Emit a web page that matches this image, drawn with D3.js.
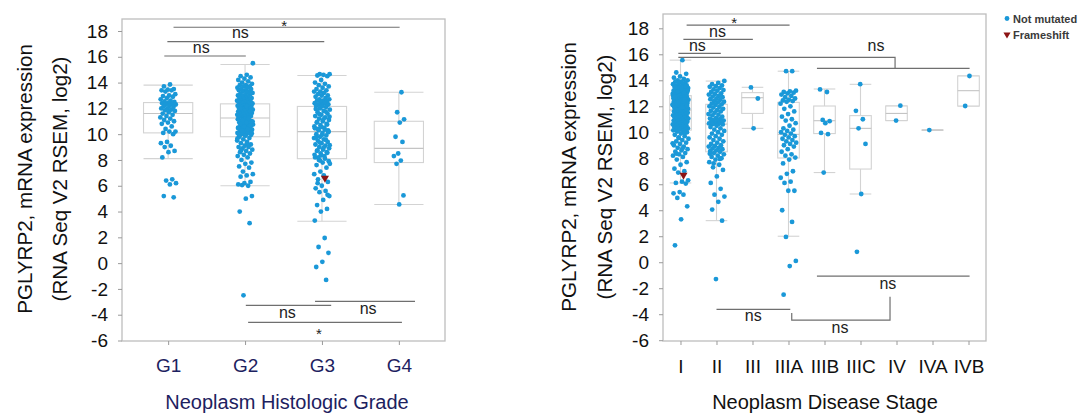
<!DOCTYPE html>
<html>
<head>
<meta charset="utf-8">
<script src="https://cdn.jsdelivr.net/npm/d3@7/dist/d3.min.js"></script>
<style>
  body { margin: 0; background: #fff; }
  svg { display: block; }
  text { font-family: "Liberation Sans", Arial, sans-serif; }
</style>
</head>
<body>
<svg id="chart" width="1090" height="416"></svg>
<script>
// ---------- Data: PGLYRP2 expression by histologic grade ----------
const gradeCats = ["G1", "G2", "G3", "G4"];
const gradeG1 = [13.85,13.7,13.5,13.45,13.4,13.4,13.3,13.1,13.0,12.95,12.9,12.8,12.7,12.6,12.55,12.5,12.45,12.4,12.35,12.3,12.3,12.2,12.15,12.1,12.0,12.0,11.9,11.85,11.8,11.7,11.6,11.5,11.4,11.3,11.2,11.1,11.0,10.9,10.8,10.6,10.4,10.2,10.2,10.1,10.0,9.4,9.3,9.1,9.0,8.7,8.6,8.2,6.5,6.4,6.2,6.1,5.2,5.1];
const gradeG2 = [15.5,14.6,14.5,14.4,14.3,14.2,14.1,14.0,13.9,13.8,13.8,13.7,13.7,13.6,13.6,13.5,13.5,13.4,13.4,13.3,13.3,13.2,13.2,13.1,13.1,13.0,13.0,12.9,12.9,12.8,12.8,12.8,12.7,12.7,12.6,12.6,12.6,12.5,12.5,12.5,
  12.4,12.4,12.35,12.3,12.3,12.25,12.2,12.2,12.15,12.1,12.1,12.05,12.0,12.0,11.95,11.9,11.9,11.85,11.8,11.8,11.75,11.7,11.7,11.65,11.6,11.6,11.55,11.5,11.5,11.45,11.4,11.4,11.35,11.3,11.3,11.25,12.38,12.18,11.98,11.78,
  11.2,11.15,11.1,11.05,11.0,10.95,10.9,10.85,10.8,10.75,10.7,10.65,10.6,10.55,10.5,10.45,10.4,10.35,10.3,10.25,10.2,10.15,10.1,10.05,10.0,9.95,9.9,9.85,11.18,11.08,10.98,10.88,10.78,10.68,10.58,10.48,10.38,10.28,10.08,9.88,
  9.8,9.7,9.6,9.5,9.4,9.3,9.2,9.1,9.0,9.0,8.9,8.8,8.7,8.6,8.5,8.4,8.3,8.2,8.0,7.8,7.7,7.5,7.4,7.1,6.9,6.8,6.7,6.3,6.2,6.1,6.0,6.05,5.2,5.0,4.0,3.1,-2.5,9.65,9.25,8.75];
const gradeG3 = [14.65,14.65,14.6,14.55,14.5,14.2,14.0,13.9,13.8,13.7,13.6,13.5,13.4,13.3,13.3,13.2,13.1,13.0,13.0,12.9,12.8,12.7,12.7,12.6,12.6,12.5,12.5,12.4,12.4,12.3,12.3,12.25,
  12.2,12.1,12.0,11.9,11.8,11.7,11.6,11.5,11.4,11.3,11.2,11.1,11.0,10.9,10.8,10.7,10.6,10.5,10.4,10.3,12.15,11.95,11.75,11.55,11.35,11.15,10.95,10.75,10.55,10.45,10.35,10.3,
  10.2,10.1,10.0,9.9,9.8,9.7,9.6,9.5,9.4,9.3,9.2,9.1,9.0,8.9,8.8,8.7,8.6,8.5,8.4,8.3,8.2,10.15,9.95,9.75,9.55,9.35,9.15,8.95,8.75,8.55,8.35,8.2,
  8.1,8.0,7.9,7.8,7.6,7.4,7.1,6.9,6.7,6.5,6.3,6.0,5.8,5.6,5.5,5.2,4.9,4.5,4.2,4.0,3.3,1.95,1.25,0.8,0.1,-0.3,-1.3,7.95,7.7,6.8,6.2,5.3];
const gradeG4 = [13.25,11.7,11.15,10.9,9.8,9.4,8.5,8.3,7.95,7.7,5.25,4.55];
const gradeValues = [gradeG1, gradeG2, gradeG3, gradeG4];
// box statistics: lower whisker, Q1, median, Q3, upper whisker
const gradeLow    = [8.1, 6.0, 3.25, 4.55];
const gradeQ1     = [10.1, 9.8, 8.1, 7.8];
const gradeMedian = [11.6, 11.25, 10.2, 8.9];
const gradeQ3     = [12.45, 12.35, 12.15, 11.0];
const gradeHigh   = [13.8, 15.4, 14.55, 13.25];
const gradeFrameshiftCat = ["G3"];
const gradeFrameshiftValue = [6.6];
const gradeTestLabels = ["*", "ns", "ns", "ns", "ns", "*"];

// ---------- Data: PGLYRP2 expression by disease stage ----------
const stageCats = ["I", "II", "III", "IIIA", "IIIB", "IIIC", "IV", "IVA", "IVB"];
const stageI = [15.55,14.6,14.5,14.3,14.2,14.1,14.0,14.0,13.9,13.9,13.8,13.8,13.7,13.7,13.6,13.6,13.5,13.5,13.4,13.4,13.4,13.3,13.3,13.3,13.2,13.2,13.2,13.1,13.1,13.1,13.0,13.0,13.0,12.95,12.9,12.9,12.9,12.85,12.85,13.05,13.15,13.25,13.35,13.45,13.55,
  12.8,12.8,12.75,12.7,12.7,12.65,12.6,12.6,12.55,12.5,12.5,12.45,12.4,12.4,12.35,12.3,12.3,12.25,12.2,12.2,12.15,12.1,12.1,12.05,12.0,12.0,11.95,11.9,11.9,11.85,11.8,11.8,11.75,11.75,11.72,12.62,12.42,12.22,12.02,11.82,12.72,12.52,12.32,12.12,11.92,
  11.7,11.65,11.6,11.6,11.55,11.5,11.5,11.45,11.4,11.4,11.35,11.3,11.3,11.25,11.2,11.2,11.15,11.1,11.1,11.05,11.0,11.0,10.95,10.9,10.9,10.85,10.8,10.8,10.75,10.7,10.7,10.65,10.6,10.55,10.5,10.5,10.45,10.4,10.4,10.35,10.3,10.3,10.25,10.2,10.2,
  10.15,10.1,10.05,10.0,9.9,9.8,9.7,9.6,9.5,9.4,9.3,9.2,9.1,9.0,8.9,8.8,8.7,8.6,8.5,8.4,8.3,8.2,8.1,7.9,7.7,7.5,7.2,7.0,6.9,6.3,6.2,6.1,6.05,5.4,5.3,5.2,4.95,4.3,3.3,1.3,9.95,9.55,9.15,8.75,8.35];
const stageII = [13.95,13.8,13.7,13.6,13.55,13.5,13.4,13.3,13.25,13.2,13.1,13.0,12.95,12.9,12.8,12.75,12.7,12.6,12.55,12.5,12.4,12.35,12.3,12.2,12.15,
  12.1,12.0,11.95,11.9,11.8,11.7,11.65,11.6,11.5,11.4,11.35,11.3,11.2,11.1,11.05,11.0,10.95,10.9,10.85,10.8,10.75,10.7,10.68,10.65,10.62,
  10.6,10.5,10.4,10.3,10.2,10.1,10.0,9.9,9.8,9.7,9.6,9.5,9.4,9.3,9.2,9.1,9.0,8.95,8.9,8.8,8.75,8.7,8.6,8.55,8.5,
  8.4,8.3,8.2,8.1,8.0,7.9,7.7,7.5,7.3,7.1,6.6,6.1,5.65,5.2,5.05,4.65,4.05,3.2,-1.3,8.35,7.95,7.6];
const stageIII = [13.45, 12.6, 10.3];
const stageIIIA = [14.7,14.7,13.2,13.15,13.1,13.05,13.0,12.9,12.8,12.7,12.6,12.5,12.45,12.4,12.35,
  12.2,12.0,11.8,11.6,11.4,11.2,11.0,10.9,10.7,10.5,10.3,10.2,10.1,10.0,9.9,
  9.8,9.7,9.6,9.5,9.4,9.3,9.2,9.1,9.0,8.9,8.7,8.5,8.3,8.2,8.05,
  7.9,7.6,7.0,6.8,6.5,6.2,6.1,5.5,5.5,4.0,3.1,1.95,0.1,-0.3,-2.5];
const stageIIIB = [13.3, 13.1, 10.95, 10.85, 10.7, 9.95, 9.85, 6.9];
const stageIIIC = [13.7, 11.65, 11.0, 10.3, 9.1, 5.25, 0.8];
const stageIV = [12.05, 10.9];
const stageIVA = [10.17];
const stageIVB = [14.33, 12.02];
const stageValues = [stageI, stageII, stageIII, stageIIIA, stageIIIB, stageIIIC, stageIV, stageIVA, stageIVB];
const stageLow    = [6.1, 3.2, 10.3, 2.0, 6.9, 5.25, 10.9, 10.17, 12.02];
const stageQ1     = [10.17, 8.5, 11.45, 8.02, 9.9, 7.17, 10.9, 10.17, 12.02];
const stageMedian = [11.71, 10.63, 12.66, 9.84, 10.89, 10.3, 11.45, 10.17, 13.2];
const stageQ3     = [12.82, 12.15, 13.05, 12.3, 12.02, 11.28, 12.02, 10.17, 14.33];
const stageHigh   = [15.55, 13.94, 13.46, 14.7, 13.33, 13.69, 12.02, 10.17, 14.33];
const stageFrameshiftCat = ["I"];
const stageFrameshiftValue = [6.7];
const stageTestLabels = ["*", "ns", "ns", "ns", "ns", "ns", "ns"];

const legendLabels = ["Not mutated", "Frameshift"];
const yTicks = [-6, -4, -2, 0, 2, 4, 6, 8, 10, 12, 14, 16, 18];

// ---------- Styling ----------
const FONT = '"Liberation Sans", Arial, sans-serif';
const dotColor = "#1a98d8";
const frameshiftColor = "#8c1414";
const boxStroke = "#d3d3d3";
const sigStroke = "#6f6f6f";

const svg = d3.select("#chart");

// spreads points of a category sideways in a fixed, repeatable pattern
function spread(i, k, half) {
  const f = ((i + 1) * 0.6180339887 + k * 0.371) % 1;
  return (f - 0.5) * 2 * half;
}

function drawPanel(cfg) {
  const g = svg.append("g");
  const x = d3.scalePoint().domain(cfg.cats).range([cfg.left, cfg.right]).padding(cfg.pad);
  const y = d3.scaleLinear().domain([-6, 18]).range([cfg.y0, cfg.y18]);
  const step = x.step();
  const xi = i => x(cfg.cats[0]) + i * step;
  const bw = step * cfg.boxFrac;

  // plot frame
  g.append("rect")
    .attr("x", cfg.left).attr("y", cfg.top)
    .attr("width", cfg.right - cfg.left).attr("height", cfg.bottom - cfg.top)
    .attr("fill", "none").attr("stroke", "#bdbdbd").attr("stroke-width", 1.3);

  // y axis
  const ya = g.append("g")
    .attr("transform", `translate(${cfg.left},0)`)
    .call(d3.axisLeft(y).tickValues(yTicks).tickSize(4).tickPadding(10).tickFormat(d => String(d)));
  ya.attr("font-family", FONT);
  ya.select(".domain").remove();
  ya.selectAll(".tick line").attr("stroke", "#9a9a9a");
  ya.selectAll(".tick text").attr("font-size", 19).attr("fill", "#111");

  // x axis
  const xa = g.append("g")
    .attr("transform", `translate(0,${cfg.bottom})`)
    .call(d3.axisBottom(x).tickSize(4).tickPadding(cfg.xPad));
  xa.attr("font-family", FONT);
  xa.select(".domain").remove();
  xa.selectAll(".tick line").attr("stroke", "#9a9a9a");
  xa.selectAll(".tick text").attr("font-size", 19).attr("fill", cfg.labelColor);

  // axis titles
  g.append("text")
    .attr("x", cfg.titleX).attr("y", 409)
    .attr("text-anchor", "middle").attr("font-size", 20).attr("fill", cfg.labelColor)
    .text(cfg.xTitle);
  cfg.yTitle.forEach((t, k) => {
    g.append("text")
      .attr("transform", `translate(${cfg.yTitleX[k]},${cfg.yTitleY}) rotate(-90)`)
      .attr("text-anchor", "middle").attr("font-size", 20.6).attr("fill", "#111")
      .text(t);
  });

  // box plots
  const boxes = g.append("g").attr("stroke", boxStroke).attr("stroke-width", 1.1).attr("fill", "none");
  cfg.cats.forEach((c, i) => {
    const cx = x(c);
    boxes.append("line").attr("x1", cx).attr("x2", cx).attr("y1", y(cfg.q3[i])).attr("y2", y(cfg.high[i]));
    boxes.append("line").attr("x1", cx).attr("x2", cx).attr("y1", y(cfg.q1[i])).attr("y2", y(cfg.low[i]));
    boxes.append("line").attr("x1", cx - bw / 2).attr("x2", cx + bw / 2).attr("y1", y(cfg.high[i])).attr("y2", y(cfg.high[i]));
    boxes.append("line").attr("x1", cx - bw / 2).attr("x2", cx + bw / 2).attr("y1", y(cfg.low[i])).attr("y2", y(cfg.low[i]));
    boxes.append("rect")
      .attr("x", cx - bw / 2).attr("y", y(cfg.q3[i]))
      .attr("width", bw).attr("height", Math.max(0, y(cfg.q1[i]) - y(cfg.q3[i])))
      .attr("fill", "#fff");
    boxes.append("line").attr("x1", cx - bw / 2).attr("x2", cx + bw / 2)
      .attr("y1", y(cfg.median[i])).attr("y2", y(cfg.median[i])).attr("stroke", "#c4c4c4");
  });

  // sample points
  cfg.cats.forEach((c, k) => {
    const vals = cfg.values[k];
    const half = vals.length > 20 ? cfg.jitter : cfg.jitter * 0.7;
    g.append("g").selectAll("circle").data(vals).join("circle")
      .attr("cx", (d, i) => x(c) + spread(i, k, half))
      .attr("cy", d => y(d))
      .attr("r", 2.4)
      .attr("fill", dotColor);
  });

  // frameshift samples
  cfg.fsCat.forEach((c, i) => {
    g.append("path")
      .attr("d", d3.symbol(d3.symbolTriangle, 28)())
      .attr("transform", `translate(${x(c) + 3},${y(cfg.fsValue[i])}) rotate(180)`)
      .attr("fill", frameshiftColor);
  });

  // significance brackets
  const sig = g.append("g");
  cfg.tests.forEach((b, k) => {
    b.paths.forEach(p => {
      sig.append("path")
        .attr("d", d3.line()(p.map(([i, v]) => [xi(i), y(v)])))
        .attr("fill", "none").attr("stroke", sigStroke).attr("stroke-width", 1.2);
    });
    const label = cfg.testLabels[k];
    const star = label === "*";
    sig.append("text")
      .attr("x", xi(b.at[0]))
      .attr("y", y(b.at[1]) + (star ? 8.5 : 4.3))
      .attr("text-anchor", "middle")
      .attr("font-size", star ? 15 : 16)
      .attr("fill", "#222")
      .text(label);
  });
}

// histologic grade panel
drawPanel({
  cats: gradeCats, values: gradeValues,
  low: gradeLow, q1: gradeQ1, median: gradeMedian, q3: gradeQ3, high: gradeHigh,
  fsCat: gradeFrameshiftCat, fsValue: gradeFrameshiftValue,
  testLabels: gradeTestLabels,
  left: 122, right: 445, top: 19, bottom: 341, y0: 340.5, y18: 31, pad: 0.6,
  boxFrac: 0.64, jitter: 8, xPad: 14,
  labelColor: "#1d2160",
  xTitle: "Neoplasm Histologic Grade", titleX: 287,
  yTitle: ["PGLYRP2, mRNA expression", "(RNA Seq V2 RSEM, log2)"], yTitleX: [32, 67], yTitleY: 179,
  tests: [
    { paths: [[[0.07, 18.29], [3.01, 18.29]]], at: [1.51, 18.64] },
    { paths: [[[-0.01, 17.17], [2.03, 17.17]]], at: [0.94, 17.82] },
    { paths: [[[-0.05, 16.06], [1.01, 16.06]]], at: [0.43, 16.6] },
    { paths: [[[1.01, -3.28], [2.12, -3.28]]], at: [1.55, -3.9] },
    { paths: [[[1.91, -2.97], [3.21, -2.97]]], at: [2.6, -3.62] },
    { paths: [[[1.04, -4.6], [3.04, -4.6]]], at: [1.96, -5.22] }
  ]
});

// disease stage panel
drawPanel({
  cats: stageCats, values: stageValues,
  low: stageLow, q1: stageQ1, median: stageMedian, q3: stageQ3, high: stageHigh,
  fsCat: stageFrameshiftCat, fsValue: stageFrameshiftValue,
  testLabels: stageTestLabels,
  left: 663, right: 986, top: 14, bottom: 341, y0: 340.2, y18: 28.3, pad: 0.486,
  boxFrac: 0.6, jitter: 8, xPad: 15,
  labelColor: "#111",
  xTitle: "Neoplasm Disease Stage", titleX: 825,
  yTitle: ["PGLYRP2, mRNA expression", "(RNA Seq V2 RSEM, log2)"], yTitleX: [576, 612], yTitleY: 177,
  tests: [
    { paths: [[[0.17, 18.25], [3.03, 18.25]]], at: [1.49, 18.69] },
    { paths: [[[0.08, 17.15], [2.01, 17.15]]], at: [1.03, 17.69] },
    { paths: [[[-0.06, 16.07], [1.12, 16.07]]], at: [0.47, 16.58] },
    { paths: [[[-0.06, 15.77], [5.96, 15.77], [5.96, 14.92]], [[3.79, 14.92], [8.03, 14.92]]], at: [5.43, 16.58] },
    { paths: [[[3.79, -1.07], [8.03, -1.07]]], at: [5.76, -1.71] },
    { paths: [[[5.82, -2.66], [5.82, -4.45], [3.09, -4.45], [3.09, -3.9]]], at: [4.43, -5.09] },
    { paths: [[[1.0, -3.63], [3.05, -3.63]]], at: [2.02, -4.2] }
  ]
});

// legend
const legend = svg.append("g").attr("font-family", FONT);
legend.append("circle").attr("cx", 1007).attr("cy", 18.5).attr("r", 2.4).attr("fill", dotColor);
legend.append("path")
  .attr("d", d3.symbol(d3.symbolTriangle, 22)())
  .attr("transform", "translate(1007,34.5) rotate(180)")
  .attr("fill", frameshiftColor);
legend.selectAll("text").data(legendLabels).join("text")
  .attr("x", 1013).attr("y", (d, i) => 22.5 + i * 16)
  .attr("font-size", 11).attr("font-weight", "bold").attr("fill", "#3a3a3a")
  .text(d => d);
</script>
</body>
</html>
